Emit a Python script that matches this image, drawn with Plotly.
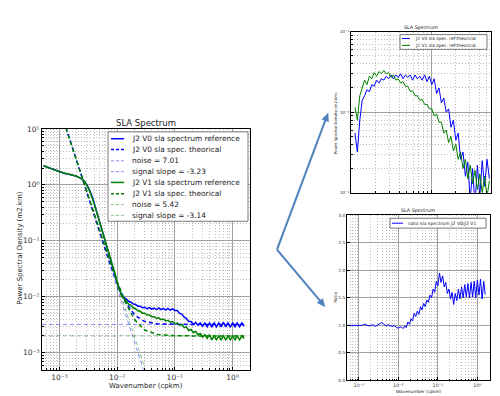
import math
import plotly.graph_objects as go

# ---------------- main chart data (SLA spectrum) ----------------
wn_low = [5.3e-4, 6.5e-4, 8e-4, 1.0e-3, 1.25e-3, 1.6e-3, 2.0e-3, 2.5e-3, 2.8e-3, 3.2e-3,
          3.7e-3, 4.2e-3, 4.8e-3, 5.3e-3, 6.2e-3, 7.0e-3, 7.9e-3, 9.0e-3, 1.04e-2]
v0_low = [2.2, 2.05, 1.87, 1.72, 1.6, 1.52, 1.42, 1.27, 1.12, 0.88,
          0.62, 0.40, 0.25, 0.17, 0.10, 0.068, 0.045, 0.027, 0.0155]
v1_low = [2.2, 2.05, 1.87, 1.71, 1.6, 1.50, 1.43, 1.26, 1.10, 0.86,
          0.59, 0.39, 0.25, 0.17, 0.10, 0.069, 0.046, 0.028, 0.016]

wn_high = [0.0120, 0.0132, 0.0145, 0.0158, 0.0174, 0.0191, 0.0209, 0.0229, 0.0251, 0.0275,
           0.0302, 0.0331, 0.0363, 0.0398, 0.0437, 0.0479, 0.0525, 0.0575, 0.0631, 0.0692,
           0.0759, 0.0832, 0.0912, 0.100, 0.110, 0.120, 0.132, 0.145, 0.158, 0.174,
           0.191, 0.209, 0.229, 0.251, 0.275, 0.302, 0.331, 0.363, 0.398, 0.437,
           0.479, 0.525, 0.575, 0.631, 0.692, 0.759, 0.832, 0.912, 1.00, 1.10,
           1.20, 1.32, 1.45, 1.58]
v0_high = [0.0106, 0.0096, 0.0091, 0.0083, 0.0080, 0.0074, 0.0073, 0.0068, 0.0068, 0.0064,
           0.0065, 0.0061, 0.0064, 0.0060, 0.0063, 0.0059, 0.0063, 0.0059, 0.0062, 0.0058,
           0.0062, 0.0058, 0.0061, 0.0057, 0.0057, 0.0051, 0.0049, 0.0043, 0.0041, 0.0036,
           0.0036, 0.0032, 0.0035, 0.0031, 0.0034, 0.0030, 0.0034, 0.0029, 0.0034, 0.0029,
           0.0034, 0.0029, 0.0034, 0.0029, 0.0035, 0.0029, 0.0034, 0.0029, 0.0034, 0.0029,
           0.0034, 0.0029, 0.0034, 0.0030]
v1_high = [0.0104, 0.0092, 0.0084, 0.0074, 0.0070, 0.0063, 0.0061, 0.0056, 0.0055, 0.0051,
           0.0051, 0.0047, 0.0047, 0.0044, 0.0044, 0.0041, 0.0042, 0.0039, 0.0040, 0.0037,
           0.0038, 0.0035, 0.0036, 0.0033, 0.0034, 0.0031, 0.0032, 0.0028, 0.0029, 0.0025,
           0.0026, 0.0023, 0.0024, 0.0021, 0.0022, 0.0019, 0.0021, 0.0018, 0.0021, 0.0017,
           0.0020, 0.0017, 0.0020, 0.0017, 0.0020, 0.0017, 0.0020, 0.0017, 0.0020, 0.0017,
           0.0020, 0.0017, 0.0020, 0.0018]

theo_wn = [1e-3, 2e-3, 3e-3, 5e-3, 7e-3, 1e-2, 1.4e-2, 2e-2, 3e-2, 5e-2, 0.1, 0.2, 0.5, 1.0, 1.6]
v0_theo = [24.4, 2.60, 0.703, 0.138, 0.0487, 0.0176, 0.00805, 0.00473, 0.00361, 0.00328,
           0.00321, 0.0032, 0.0032, 0.0032, 0.0032]
v1_theo = [23.3, 2.64, 0.74, 0.151, 0.0536, 0.01886, 0.00786, 0.00391, 0.00254, 0.00211,
           0.00201, 0.0020, 0.0020, 0.0020, 0.0020]
noise_wn = [5e-4, 1.6]
v0_noise = [0.0032, 0.0032]
v1_noise = [0.0020, 0.0020]
slope_wn = [1e-3, 4e-2]
v0_slope = [24.4, 1.65e-4]
v1_slope = [23.3, 2.2e-4]

# ---------------- top-right chart data (ref - theorical) ----------------
wn_top = [0.01122, 0.01202, 0.01288, 0.01380, 0.01479, 0.01585, 0.01698, 0.01820, 0.01950, 0.02089,
          0.02239, 0.02399, 0.02570, 0.02754, 0.02951, 0.03162, 0.03388, 0.03631, 0.03890, 0.04169,
          0.04467, 0.04786, 0.05129, 0.05495, 0.05888, 0.06310, 0.06761, 0.07244, 0.07762, 0.08318,
          0.08913, 0.09550, 0.1023, 0.1096, 0.1175, 0.1259, 0.1349, 0.1445, 0.1549, 0.1660,
          0.1778, 0.1905, 0.2042, 0.2188, 0.2344, 0.2512, 0.2692, 0.2884, 0.3090, 0.3311,
          0.3548, 0.3802, 0.4074, 0.4365, 0.4677, 0.5012, 0.5370]
v0_diff = [5.5e-4, 3.2e-4, 8e-4, 1.4e-3, 1.6e-3, 1.9e-3, 1.8e-3, 2.2e-3, 2.1e-3, 2.5e-3,
           2.3e-3, 2.6e-3, 2.5e-3, 2.8e-3, 2.6e-3, 2.9e-3, 2.6e-3, 2.9e-3, 2.7e-3, 3.0e-3,
           2.6e-3, 2.9e-3, 2.7e-3, 2.9e-3, 2.5e-3, 2.9e-3, 2.6e-3, 2.8e-3, 2.5e-3, 2.9e-3,
           2.4e-3, 2.8e-3, 2.2e-3, 2.6e-3, 1.7e-3, 2.0e-3, 1.3e-3, 1.5e-3, 1.0e-3, 1.1e-3,
           6.5e-4, 8e-4, 4.5e-4, 5.5e-4, 2.6e-4, 3.2e-4, 1.6e-4, 2.4e-4, 8e-5, 2.0e-4,
           7e-5, 2.2e-4, 9e-5, 2.5e-4, 1.2e-4, 2.6e-4, 1.5e-4]
v1_diff = [1.15e-3, 8e-4, 1.6e-3, 2.0e-3, 2.5e-3, 2.2e-3, 2.8e-3, 2.6e-3, 3.1e-3, 2.8e-3,
           3.2e-3, 3.0e-3, 3.3e-3, 3.0e-3, 3.1e-3, 2.7e-3, 2.9e-3, 2.5e-3, 2.6e-3, 2.3e-3,
           2.4e-3, 2.1e-3, 2.1e-3, 1.8e-3, 1.85e-3, 1.6e-3, 1.6e-3, 1.4e-3, 1.45e-3, 1.25e-3,
           1.25e-3, 1.1e-3, 1.1e-3, 9e-4, 9.5e-4, 7.5e-4, 7.5e-4, 5.5e-4, 6e-4, 4.2e-4,
           5e-4, 3.3e-4, 4e-4, 2.6e-4, 3.2e-4, 2.0e-4, 2.6e-4, 1.5e-4, 2.2e-4, 1.3e-4,
           1.9e-4, 1.1e-4, 1.7e-4, 1.0e-4, 1.6e-4, 9e-5, 1.4e-4]

# ---------------- bottom-right chart data (ratio) ----------------
wn_ratio_low = [5e-4, 7e-4, 1e-3, 1.2e-3, 1.4e-3, 1.6e-3, 1.8e-3, 2.0e-3, 2.3e-3, 2.6e-3, 3.0e-3,
                3.4e-3, 3.8e-3, 4.3e-3, 4.9e-3, 5.5e-3, 6.2e-3, 7.0e-3, 7.9e-3, 8.9e-3, 1.0e-2, 1.1e-2]
ratio_low = [1.0, 1.0, 1.0, 1.0, 1.02, 1.01, 0.99, 1.0, 1.01, 0.98, 1.0,
             1.03, 1.05, 1.02, 0.99, 1.01, 0.99, 0.98, 1.0, 0.96, 0.95, 0.97]
ratio_high = [0.97, 0.94, 0.99, 0.96, 1.06, 1.02, 1.12, 1.08, 1.22, 1.16,
              1.26, 1.20, 1.34, 1.28, 1.40, 1.34, 1.46, 1.42, 1.55, 1.50,
              1.66, 1.60, 1.80, 1.72, 1.95, 1.78, 1.90, 1.70, 1.78, 1.58,
              1.66, 1.48, 1.60, 1.38, 1.58, 1.45, 1.66, 1.48, 1.70, 1.50,
              1.74, 1.52, 1.76, 1.50, 1.78, 1.52, 1.80, 1.50, 1.82, 1.55,
              1.84, 1.48, 1.80, 1.56]

# ---------------- tick labels ----------------
main_xtick_vals = [1e-3, 1e-2, 1e-1, 1.0]
main_xtick_text = ["10⁻³", "10⁻²", "10⁻¹", "10⁰"]
main_ytick_vals = [1e-3, 1e-2, 1e-1, 1.0, 10.0]
main_ytick_text = ["10⁻³", "10⁻²", "10⁻¹", "10⁰", "10¹"]
top_xtick_vals = [1e-2, 1e-1]
top_xtick_text = ["10⁻²", "10⁻¹"]
top_ytick_vals = [1e-4, 1e-3, 1e-2]
top_ytick_text = ["10⁻⁴", "10⁻³", "10⁻²"]
ratio_ytick_vals = [0.0, 0.5, 1.0, 1.5, 2.0, 2.5, 3.0]
ratio_ytick_text = ["0.0", "0.5", "1.0", "1.5", "2.0", "2.5", "3.0"]

BLUE = "#0000ff"
GREEN = "#008000"
LBLUE = "rgba(0,0,255,0.45)"
LGREEN = "rgba(0,128,0,0.45)"
FONT = "DejaVu Sans"
W, H = 500, 396


def X(p):
    return p / W


def Y(p):
    return 1 - p / H


fig = go.Figure()

# main chart traces (matplotlib plot order)
fig.add_trace(go.Scatter(x=wn_low + wn_high, y=v0_low + v0_high, mode="lines",
                         line=dict(color=BLUE, width=1.5), xaxis="x", yaxis="y"))
fig.add_trace(go.Scatter(x=theo_wn, y=v0_theo, mode="lines",
                         line=dict(color=BLUE, width=1.5, dash="4px,3px"), xaxis="x", yaxis="y"))
fig.add_trace(go.Scatter(x=noise_wn, y=v0_noise, mode="lines",
                         line=dict(color=LBLUE, width=1, dash="4px,3px"), xaxis="x", yaxis="y"))
fig.add_trace(go.Scatter(x=slope_wn, y=v0_slope, mode="lines",
                         line=dict(color=LBLUE, width=1, dash="4px,3px"), xaxis="x", yaxis="y"))
fig.add_trace(go.Scatter(x=wn_low + wn_high, y=v1_low + v1_high, mode="lines",
                         line=dict(color=GREEN, width=1.5), xaxis="x", yaxis="y"))
fig.add_trace(go.Scatter(x=theo_wn, y=v1_theo, mode="lines",
                         line=dict(color=GREEN, width=1.5, dash="4px,3px"), xaxis="x", yaxis="y"))
fig.add_trace(go.Scatter(x=noise_wn, y=v1_noise, mode="lines",
                         line=dict(color=LGREEN, width=1, dash="4px,3px"), xaxis="x", yaxis="y"))
fig.add_trace(go.Scatter(x=slope_wn, y=v1_slope, mode="lines",
                         line=dict(color=LGREEN, width=1, dash="4px,3px"), xaxis="x", yaxis="y"))

# top-right chart traces
fig.add_trace(go.Scatter(x=wn_top, y=v0_diff, mode="lines",
                         line=dict(color=BLUE, width=1), xaxis="x2", yaxis="y2"))
fig.add_trace(go.Scatter(x=wn_top, y=v1_diff, mode="lines",
                         line=dict(color=GREEN, width=1), xaxis="x2", yaxis="y2"))

# bottom-right chart trace
fig.add_trace(go.Scatter(x=wn_ratio_low + wn_high, y=ratio_low + ratio_high, mode="lines",
                         line=dict(color=BLUE, width=1), xaxis="x3", yaxis="y3"))

MAJOR_GRID = "#a0a0a0"
MINOR_GRID = "#bdbdbd"
TICKC = "#333333"


def log_axis(rng, dom, vals, text, fsize, anchor, show_labels=True):
    return dict(type="log", range=rng, domain=dom, anchor=anchor,
                tickmode="array", tickvals=vals, ticktext=text,
                showticklabels=show_labels,
                tickfont=dict(family=FONT, size=fsize, color=TICKC),
                ticks="inside", ticklen=3, tickcolor="#000",
                showgrid=True, gridcolor=MAJOR_GRID, gridwidth=0.9,
                showline=True, linecolor="#000", linewidth=1, mirror=True,
                zeroline=False,
                minor=dict(dtick="D1", showgrid=True, gridcolor=MINOR_GRID, griddash="1px,2px",
                           gridwidth=0.8, ticks="inside", ticklen=1.5, tickcolor="#000"))


lay = dict(
    width=W, height=H, autosize=False,
    margin=dict(l=0, r=0, t=0, b=0),
    paper_bgcolor="white", plot_bgcolor="white",
    showlegend=False,
    font=dict(family=FONT, color=TICKC),
)
lay["xaxis"] = log_axis([-3.301, 0.301], [X(34), X(242)], main_xtick_vals, main_xtick_text, 7.5, "y")
lay["yaxis"] = log_axis([-3.301, 1.0], [Y(364), Y(119)], main_ytick_vals, main_ytick_text, 7.5, "x")
lay["xaxis2"] = log_axis([-2.0, -0.25], [X(343), X(483)], top_xtick_vals, top_xtick_text, 4.2, "y2", False)
lay["yaxis2"] = log_axis([-4.0, -2.0], [Y(184), Y(20)], top_ytick_vals, top_ytick_text, 4.2, "x2")
lay["xaxis3"] = log_axis([-3.301, 0.32], [X(339), X(482)], main_xtick_vals, main_xtick_text, 4.8, "y3")
lay["yaxis3"] = dict(range=[0, 3], domain=[Y(375), Y(207)], anchor="x3",
                     tickmode="array", tickvals=ratio_ytick_vals, ticktext=ratio_ytick_text,
                     tickfont=dict(family=FONT, size=4.3, color=TICKC),
                     ticks="inside", ticklen=3, tickcolor="#000",
                     showgrid=True, gridcolor=MAJOR_GRID, gridwidth=0.9,
                     showline=True, linecolor="#000", linewidth=1, mirror=True, zeroline=False)
fig.update_layout(**lay)

shapes = []
annos = []


def text(x, y, s, size, angle=0, anchor="center"):
    annos.append(dict(x=X(x), y=Y(y), xref="paper", yref="paper", text=s, showarrow=False,
                      xanchor=anchor, yanchor="middle", textangle=angle,
                      font=dict(family=FONT, size=size, color="#222")))


def seg(x0, x1, y, color, width, dash="solid"):
    shapes.append(dict(type="line", xref="paper", yref="paper", x0=X(x0), x1=X(x1), y0=Y(y), y1=Y(y),
                       line=dict(color=color, width=width, dash=dash), layer="above"))


def box(x0, x1, y0, y1):
    shapes.append(dict(type="rect", xref="paper", yref="paper", x0=X(x0), x1=X(x1), y0=Y(y1), y1=Y(y0),
                       fillcolor="white", line=dict(color="#555", width=0.8), layer="above"))


def arrow(tail, tip, color, width=2, head_len=8, head_half=3.5):
    dx, dy = tip[0] - tail[0], tip[1] - tail[1]
    n = math.hypot(dx, dy)
    ux, uy = dx / n, dy / n
    bx, by = tip[0] - head_len * ux, tip[1] - head_len * uy
    px_, py_ = -uy, ux
    shapes.append(dict(type="line", xref="paper", yref="paper",
                       x0=X(tail[0]), y0=Y(tail[1]), x1=X(bx + 2 * ux), y1=Y(by + 2 * uy),
                       line=dict(color=color, width=width), layer="above"))
    c1 = (bx + head_half * px_, by + head_half * py_)
    c2 = (bx - head_half * px_, by - head_half * py_)
    path = "M {} {} L {} {} L {} {} Z".format(X(tip[0]), Y(tip[1]), X(c1[0]), Y(c1[1]), X(c2[0]), Y(c2[1]))
    shapes.append(dict(type="path", xref="paper", yref="paper", path=path,
                       fillcolor=color, line=dict(color=color, width=0.5), layer="above"))


# titles and axis labels
text(138, 113, "SLA Spectrum", 8.5)
text(138, 381, "Wavenumber (cpkm)", 7)
text(12, 241, "Power Spectral Density (m2.km)", 7, -90)
text(413, 16, "SLA Spectrum", 4.8)
text(327, 113, "Power Spectral Density (m2.km)", 3.8, -90)
text(410, 202, "SLA Spectrum", 4.8)
text(410, 386, "Wavenumber (cpkm)", 4.3)
text(328, 291, "Ratio", 4.3, -90)

# main legend
main_labels = ["J2 V0 sla spectrum reference", "J2 V0 sla spec. theorical", "noise = 7.01",
               "signal slope = -3.23", "J2 V1 sla spectrum reference", "J2 V1 sla spec. theorical",
               "noise = 5.42", "signal slope = -3.14"]
main_styles = [(BLUE, 1.5, "solid"), (BLUE, 1.5, "3px,2px"), (LBLUE, 1, "3px,2px"), (LBLUE, 1, "3px,2px"),
               (GREEN, 1.5, "solid"), (GREEN, 1.5, "3px,2px"), (LGREEN, 1, "3px,2px"), (LGREEN, 1, "3px,2px")]
rows = [129, 140, 151.5, 162.5, 173.5, 185, 196, 207]
box(100, 240, 122, 213)
for lab, st, ry in zip(main_labels, main_styles, rows):
    seg(103, 116, ry, st[0], st[1], st[2])
    text(122, ry, lab, 7.4, anchor="left")

# top legend
box(392, 479, 23, 38)
seg(394, 402, 27, BLUE, 1)
text(405, 27, "J2 V0 sla spec. ref-theorical", 4.4, anchor="left")
seg(394, 402, 34, GREEN, 1)
text(405, 34, "J2 V1 sla spec. ref-theorical", 4.4, anchor="left")

# bottom legend
box(382, 478, 210, 220)
seg(384, 395, 215, BLUE, 1)
text(398, 215, "ratio sla spectrum J2 V0/J2 V1", 4.6, anchor="left")

# arrows
ARROW = "#4F81BD"
arrow((269, 242), (320, 103), ARROW)
arrow((269, 242), (317, 300), ARROW)

fig.update_layout(shapes=shapes, annotations=annos)
fig.write_html("out.html")
